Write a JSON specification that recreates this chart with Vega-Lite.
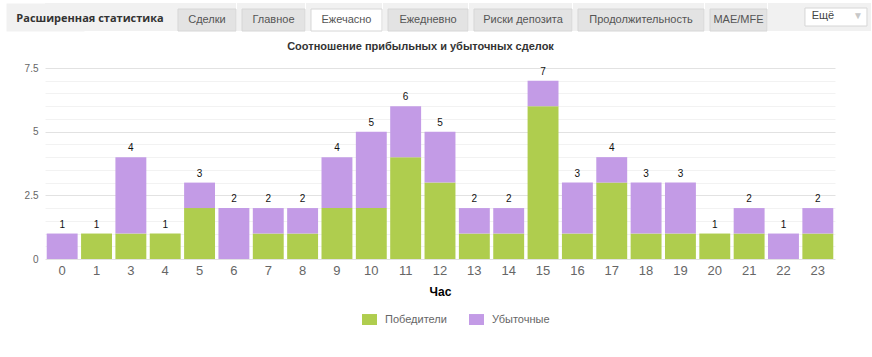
{
  "$schema": "https://vega.github.io/schema/vega-lite/v6.json",
  "background": "white",
  "padding": {"left": 6, "top": 3, "right": 0, "bottom": 0},
  "config": {"font": "Liberation Sans", "view": {"stroke": null}},
  "spacing": 9,
  "datasets": {
    "trades": [
      {"hour": 0, "type": "Победители", "count": 0}, {"hour": 0, "type": "Убыточные", "count": 1},
      {"hour": 1, "type": "Победители", "count": 1}, {"hour": 1, "type": "Убыточные", "count": 0},
      {"hour": 3, "type": "Победители", "count": 1}, {"hour": 3, "type": "Убыточные", "count": 3},
      {"hour": 4, "type": "Победители", "count": 1}, {"hour": 4, "type": "Убыточные", "count": 0},
      {"hour": 5, "type": "Победители", "count": 2}, {"hour": 5, "type": "Убыточные", "count": 1},
      {"hour": 6, "type": "Победители", "count": 0}, {"hour": 6, "type": "Убыточные", "count": 2},
      {"hour": 7, "type": "Победители", "count": 1}, {"hour": 7, "type": "Убыточные", "count": 1},
      {"hour": 8, "type": "Победители", "count": 1}, {"hour": 8, "type": "Убыточные", "count": 1},
      {"hour": 9, "type": "Победители", "count": 2}, {"hour": 9, "type": "Убыточные", "count": 2},
      {"hour": 10, "type": "Победители", "count": 2}, {"hour": 10, "type": "Убыточные", "count": 3},
      {"hour": 11, "type": "Победители", "count": 4}, {"hour": 11, "type": "Убыточные", "count": 2},
      {"hour": 12, "type": "Победители", "count": 3}, {"hour": 12, "type": "Убыточные", "count": 2},
      {"hour": 13, "type": "Победители", "count": 1}, {"hour": 13, "type": "Убыточные", "count": 1},
      {"hour": 14, "type": "Победители", "count": 1}, {"hour": 14, "type": "Убыточные", "count": 1},
      {"hour": 15, "type": "Победители", "count": 6}, {"hour": 15, "type": "Убыточные", "count": 1},
      {"hour": 16, "type": "Победители", "count": 1}, {"hour": 16, "type": "Убыточные", "count": 2},
      {"hour": 17, "type": "Победители", "count": 3}, {"hour": 17, "type": "Убыточные", "count": 1},
      {"hour": 18, "type": "Победители", "count": 1}, {"hour": 18, "type": "Убыточные", "count": 2},
      {"hour": 19, "type": "Победители", "count": 1}, {"hour": 19, "type": "Убыточные", "count": 2},
      {"hour": 20, "type": "Победители", "count": 1}, {"hour": 20, "type": "Убыточные", "count": 0},
      {"hour": 21, "type": "Победители", "count": 1}, {"hour": 21, "type": "Убыточные", "count": 1},
      {"hour": 22, "type": "Победители", "count": 0}, {"hour": 22, "type": "Убыточные", "count": 1},
      {"hour": 23, "type": "Победители", "count": 1}, {"hour": 23, "type": "Убыточные", "count": 1}
    ]
  },
  "vconcat": [
    {
      "spacing": 0,
      "hconcat": [
        {
          "width": 128, "height": 28,
          "view": {"fill": "#f1f1f1", "stroke": null},
          "data": {"values": [{"label": "Расширенная статистика"}]},
          "mark": {"type": "text", "font": "Open Sans", "fontWeight": "bold", "fontSize": 11, "color": "#333", "dy": 2, "dx": -19},
          "encoding": {
            "text": {"field": "label"},
            "y": {"datum": 14, "type": "quantitative", "scale": {"domain": [0, 28]},
                  "axis": {"title": null, "labels": false, "ticks": false, "grid": false, "domainColor": "#f1f1f1", "domainWidth": 78, "domainCap": "butt"}}
          }
        },
        {
          "width": 63, "height": 28, "view": {"fill": "#f1f1f1", "stroke": null},
          "data": {"values": [{"tab": "Сделки", "active": false}]},
          "encoding": {"x": {"field": "tab", "type": "nominal", "axis": null, "scale": {"paddingInner": 0, "paddingOuter": 0.0431, "align": 1}}},
          "layer": [
            {"mark": {"type": "bar", "stroke": "#d6d6d6", "strokeWidth": 1, "fill": "#e3e3e3"}, "encoding": {"y": {"datum": 22, "type": "quantitative", "scale": {"domain": [0, 28]}, "axis": null}, "y2": {"datum": 0}}},
            {"mark": {"type": "text", "fontSize": 11, "color": "#555"}, "encoding": {"text": {"field": "tab"}, "y": {"datum": 11, "type": "quantitative"}}}
          ]
        },
        {
          "width": 68, "height": 28, "view": {"fill": "#f1f1f1", "stroke": null},
          "data": {"values": [{"tab": "Главное", "active": false}]},
          "encoding": {"x": {"field": "tab", "type": "nominal", "axis": null, "scale": {"paddingInner": 0, "paddingOuter": 0.0397, "align": 1}}},
          "layer": [
            {"mark": {"type": "bar", "stroke": "#d6d6d6", "strokeWidth": 1, "fill": "#e3e3e3"}, "encoding": {"y": {"datum": 22, "type": "quantitative", "scale": {"domain": [0, 28]}, "axis": null}, "y2": {"datum": 0}}},
            {"mark": {"type": "text", "fontSize": 11, "color": "#555"}, "encoding": {"text": {"field": "tab"}, "y": {"datum": 11, "type": "quantitative"}}}
          ]
        },
        {
          "width": 76, "height": 28, "view": {"fill": "#f1f1f1", "stroke": null},
          "data": {"values": [{"tab": "Ежечасно", "active": true}]},
          "encoding": {"x": {"field": "tab", "type": "nominal", "axis": null, "scale": {"paddingInner": 0, "paddingOuter": 0.0352, "align": 1}}},
          "layer": [
            {"mark": {"type": "bar", "stroke": "#d6d6d6", "strokeWidth": 1, "fill": "#ffffff"}, "encoding": {"y": {"datum": 22, "type": "quantitative", "scale": {"domain": [0, 28]}, "axis": null}, "y2": {"datum": 0}}},
            {"mark": {"type": "text", "fontSize": 11, "color": "#555"}, "encoding": {"text": {"field": "tab"}, "y": {"datum": 11, "type": "quantitative"}}}
          ]
        },
        {
          "width": 85, "height": 28, "view": {"fill": "#f1f1f1", "stroke": null},
          "data": {"values": [{"tab": "Ежедневно", "active": false}]},
          "encoding": {"x": {"field": "tab", "type": "nominal", "axis": null, "scale": {"paddingInner": 0, "paddingOuter": 0.03125, "align": 1}}},
          "layer": [
            {"mark": {"type": "bar", "stroke": "#d6d6d6", "strokeWidth": 1, "fill": "#e3e3e3"}, "encoding": {"y": {"datum": 22, "type": "quantitative", "scale": {"domain": [0, 28]}, "axis": null}, "y2": {"datum": 0}}},
            {"mark": {"type": "text", "fontSize": 11, "color": "#555"}, "encoding": {"text": {"field": "tab"}, "y": {"datum": 11, "type": "quantitative"}}}
          ]
        },
        {
          "width": 103, "height": 28, "view": {"fill": "#f1f1f1", "stroke": null},
          "data": {"values": [{"tab": "Риски депозита", "active": false}]},
          "encoding": {"x": {"field": "tab", "type": "nominal", "axis": null, "scale": {"paddingInner": 0, "paddingOuter": 0.0255, "align": 1}}},
          "layer": [
            {"mark": {"type": "bar", "stroke": "#d6d6d6", "strokeWidth": 1, "fill": "#e3e3e3"}, "encoding": {"y": {"datum": 22, "type": "quantitative", "scale": {"domain": [0, 28]}, "axis": null}, "y2": {"datum": 0}}},
            {"mark": {"type": "text", "fontSize": 11, "color": "#555"}, "encoding": {"text": {"field": "tab"}, "y": {"datum": 11, "type": "quantitative"}}}
          ]
        },
        {
          "width": 131, "height": 28, "view": {"fill": "#f1f1f1", "stroke": null},
          "data": {"values": [{"tab": "Продолжительность", "active": false}]},
          "encoding": {"x": {"field": "tab", "type": "nominal", "axis": null, "scale": {"paddingInner": 0, "paddingOuter": 0.0198, "align": 1}}},
          "layer": [
            {"mark": {"type": "bar", "stroke": "#d6d6d6", "strokeWidth": 1, "fill": "#e3e3e3"}, "encoding": {"y": {"datum": 22, "type": "quantitative", "scale": {"domain": [0, 28]}, "axis": null}, "y2": {"datum": 0}}},
            {"mark": {"type": "text", "fontSize": 11, "color": "#555"}, "encoding": {"text": {"field": "tab"}, "y": {"datum": 11, "type": "quantitative"}}}
          ]
        },
        {
          "width": 62, "height": 28, "view": {"fill": "#f1f1f1", "stroke": null},
          "data": {"values": [{"tab": "MAE/MFE", "active": false}]},
          "encoding": {"x": {"field": "tab", "type": "nominal", "axis": null, "scale": {"paddingInner": 0, "paddingOuter": 0.0439, "align": 1}}},
          "layer": [
            {"mark": {"type": "bar", "stroke": "#d6d6d6", "strokeWidth": 1, "fill": "#e3e3e3"}, "encoding": {"y": {"datum": 22, "type": "quantitative", "scale": {"domain": [0, 28]}, "axis": null}, "y2": {"datum": 0}}},
            {"mark": {"type": "text", "fontSize": 11, "color": "#555"}, "encoding": {"text": {"field": "tab"}, "y": {"datum": 11, "type": "quantitative"}}}
          ]
        },
        {
          "width": 103, "height": 28,
          "view": {"fill": "#f1f1f1", "stroke": null},
          "data": {"values": [{"m": "Ещё"}]},
          "encoding": {
            "x": {"field": "m", "type": "nominal", "axis": null, "scale": {"paddingInner": 0, "paddingOuter": 0.3306, "align": 0.902}}
          },
          "layer": [
            {
              "mark": {"type": "bar", "fill": "#ffffff", "stroke": "#d6d6d6", "strokeWidth": 1},
              "encoding": {
                "y": {"datum": 23, "type": "quantitative", "scale": {"domain": [0, 28]}, "axis": null},
                "y2": {"datum": 5}
              }
            },
            {
              "mark": {"type": "text", "fontSize": 11, "color": "#444", "dx": -13},
              "encoding": {"text": {"field": "m"}, "y": {"datum": 15, "type": "quantitative"}}
            },
            {
              "mark": {"type": "text", "text": "▼", "fontSize": 10, "color": "#c8c8c8", "dx": 22},
              "encoding": {"y": {"datum": 15, "type": "quantitative"}}
            }
          ]
        }
      ]
    },
    {
      "width": 790, "height": 191,
      "title": {"text": "Соотношение прибыльных и убыточных сделок", "fontSize": 11, "fontWeight": "bold", "color": "#333", "offset": 11, "anchor": "middle", "frame": "bounds"},
      "data": {"name": "trades"},
      "encoding": {
        "x": {
          "field": "hour", "type": "ordinal",
          "scale": {"paddingInner": 0.1, "paddingOuter": 0.05},
          "axis": {"title": "Час", "titleFontWeight": "bold", "titleFontSize": 12, "titleColor": "#000", "labelAngle": 0, "labelFontSize": 13, "labelColor": "#666", "domain": false, "ticks": false, "labelPadding": 5, "titlePadding": 9, "grid": false}
        },
        "y": {
          "field": "count", "type": "quantitative", "aggregate": "sum",
          "scale": {"domain": [0, 7.5], "nice": false},
          "axis": {
            "title": null,
            "grid": true,
            "values": [0, 0.5, 1, 1.5, 2, 2.5, 3, 3.5, 4, 4.5, 5, 5.5, 6, 6.5, 7, 7.5],
            "format": "~g",
            "labelOverlap": false,
            "labelExpr": "datum.value % 2.5 === 0 ? datum.label : ''",
            "gridColor": {"condition": {"test": "datum.value % 2.5 === 0", "value": "#e2e2e2"}, "value": "#f2f2f2"},
            "domain": false, "ticks": false,
            "labelColor": "#666", "labelFontSize": 10, "labelPadding": 7, "minExtent": 39
          }
        }
      },
      "layer": [
        {
          "mark": {"type": "bar"},
          "encoding": {
            "color": {
              "field": "type", "type": "nominal",
              "scale": {"domain": ["Победители", "Убыточные"], "range": ["#afcd4e", "#c39be6"]},
              "legend": {
                "orient": "none", "legendX": 317, "legendY": 309, "direction": "horizontal", "title": null,
                "symbolType": "M-1,-0.73H1V0.73H-1Z", "symbolSize": 225, "symbolStrokeWidth": 0,
                "labelFontSize": 11, "labelColor": "#666", "labelOffset": 8, "columnPadding": 22
              }
            },
            "order": {"field": "type", "sort": "ascending"}
          }
        },
        {
          "mark": {"type": "text", "baseline": "bottom", "dy": -4, "fontSize": 10, "color": "#111"},
          "encoding": {
            "text": {"field": "count", "type": "quantitative", "aggregate": "sum"}
          }
        }
      ]
    }
  ]
}
